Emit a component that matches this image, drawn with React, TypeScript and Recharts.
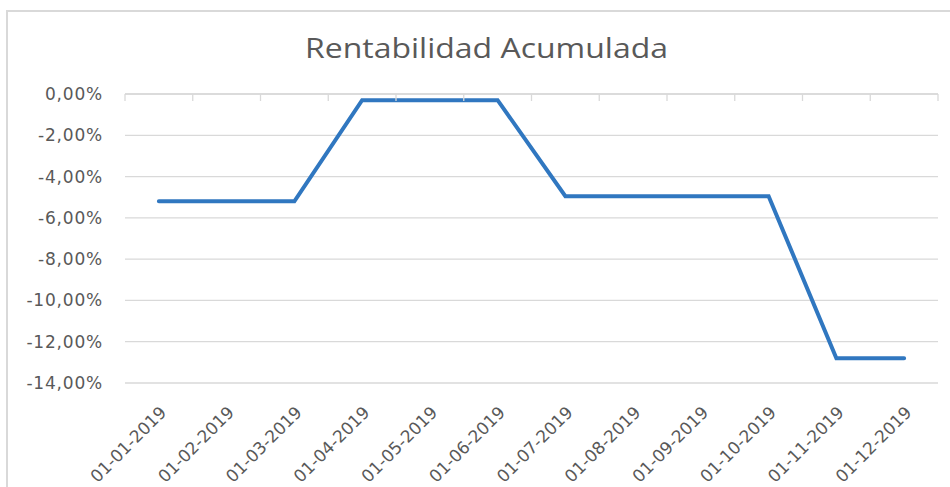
import React from 'react';
import { LineChart, Line, XAxis, YAxis, CartesianGrid } from 'recharts';

const title = 'Rentabilidad Acumulada';
const categories = [
  '01-01-2019', '01-02-2019', '01-03-2019', '01-04-2019', '01-05-2019', '01-06-2019',
  '01-07-2019', '01-08-2019', '01-09-2019', '01-10-2019', '01-11-2019', '01-12-2019',
];
const rentabilidad = [-5.2, -5.2, -5.2, -0.3, -0.3, -0.3, -4.95, -4.95, -4.95, -4.95, -12.8, -12.8];
const yTicks = [0, -2, -4, -6, -8, -10, -12, -14];
const boundaryTicks = [0, 1, 2, 3, 4, 5, 6, 7, 8, 9, 10, 11, 12];

const data = categories.map((fecha, i) => ({ fecha, pos: i + 0.5, valor: rentabilidad[i] }));

const textColor = '#595959';
const gridColor = '#d9d9d9';
const font = "'DejaVu Sans', sans-serif";

const fmtPct = (v: number) => `${v.toFixed(2).replace('.', ',')}%`;

const renderEmptyTick = () => <g />;

export default function App() {
  return (
    <div style={{ position: 'absolute', left: 0, top: 0, width: 950, height: 487, overflow: 'hidden', background: '#fff' }}>
      <div
        style={{
          position: 'absolute',
          left: 6,
          top: 10,
          width: 1000,
          height: 600,
          border: `2px solid ${gridColor}`,
          boxSizing: 'border-box',
        }}
      />
      <svg width={950} height={80} style={{ position: 'absolute', left: 0, top: 0 }}>
        <text
          x={486.5}
          y={58}
          textAnchor="middle"
          fontSize={28}
          fontFamily="'Open Sans', sans-serif"
          fill={textColor}
          textLength={363}
          lengthAdjust="spacingAndGlyphs"
        >
          {title}
        </text>
      </svg>
      <div style={{ position: 'absolute', left: 0, top: 0 }}>
        <LineChart width={950} height={487} data={data} margin={{ top: 93, right: 12, bottom: 0, left: 0 }}>
          <CartesianGrid horizontal vertical={false} stroke={gridColor} strokeWidth={1.3} />
          <XAxis
            dataKey="fecha"
            interval={0}
            padding={{ left: 33.875, right: 33.875 }}
            axisLine={false}
            tickLine={false}
            tickSize={0}
            tickMargin={22}
            height={104}
            tick={{ angle: -45, textAnchor: 'end', fill: textColor, fontSize: 17, fontFamily: font }}
          />
          <XAxis
            xAxisId="edges"
            dataKey="pos"
            type="number"
            domain={[0, 12]}
            ticks={boundaryTicks}
            interval={0}
            allowDataOverflow
            orientation="top"
            height={1}
            tick={renderEmptyTick}
            axisLine={{ stroke: gridColor, strokeWidth: 1.3 }}
            tickLine={{ stroke: gridColor, strokeWidth: 1.3 }}
            tickSize={-7}
          />
          <YAxis
            width={125}
            domain={[-14, 0]}
            ticks={yTicks}
            interval={0}
            axisLine={false}
            tickLine={false}
            tickSize={0}
            tickMargin={22}
            tickFormatter={fmtPct}
            tick={{ fill: textColor, fontSize: 17, fontFamily: font, letterSpacing: 0.8 }}
          />
          <Line
            type="linear"
            dataKey="valor"
            stroke="#3077c0"
            strokeWidth={4}
            strokeLinecap="round"
            dot={false}
            activeDot={false}
            isAnimationActive={false}
          />
        </LineChart>
      </div>
    </div>
  );
}
